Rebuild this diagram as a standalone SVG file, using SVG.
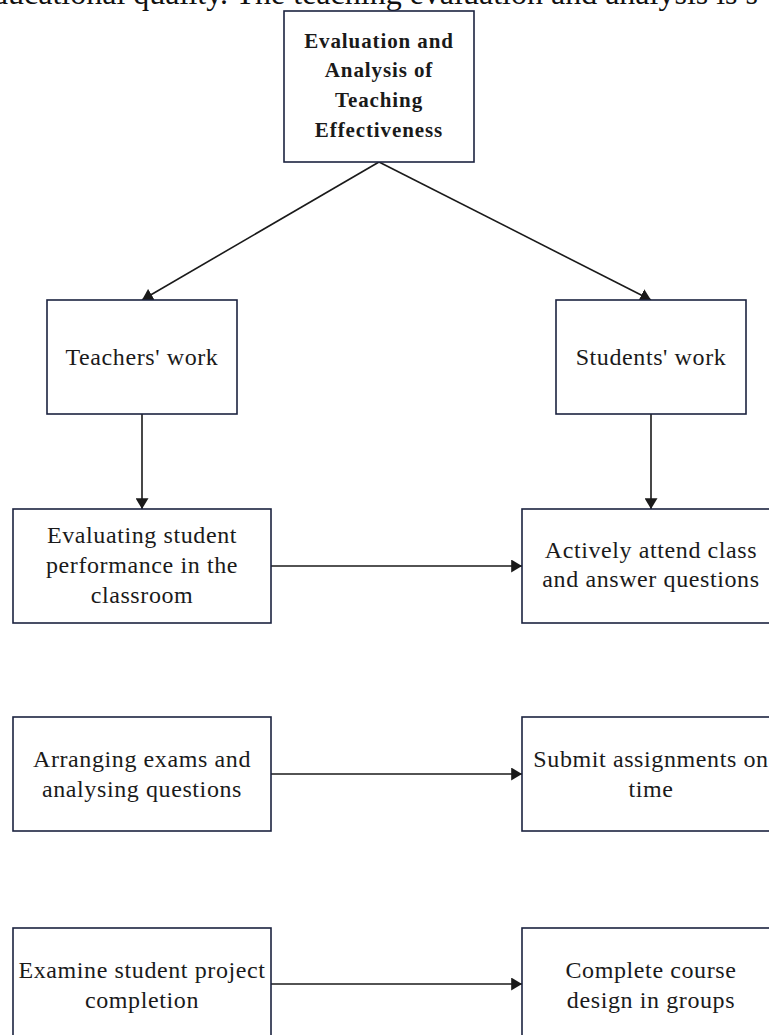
<svg xmlns="http://www.w3.org/2000/svg" width="769" height="1035" viewBox="0 0 769 1035">
  <style>
    .box { fill: #ffffff; stroke: #1c2340; stroke-width: 1.6; }
    .lbl { font-family: "Liberation Serif", "Times New Roman", serif; font-size: 24px; letter-spacing: 0.6px; fill: #1a1a1a; text-anchor: middle; }
    .ttl { font-family: "Liberation Serif", "Times New Roman", serif; font-size: 21px; letter-spacing: 0.9px; font-weight: bold; fill: #1a1a1a; text-anchor: middle; }
    .body { font-family: "Liberation Serif", "Times New Roman", serif; font-size: 32px; fill: #111111; }
    .edge { stroke: #1a1a1a; stroke-width: 1.6; fill: none; marker-end: url(#arrow); }
  </style>
  <defs>
    <marker id="arrow" viewBox="0 0 10 12" refX="10" refY="6" markerWidth="11" markerHeight="13" markerUnits="userSpaceOnUse" orient="auto">
      <path d="M0,0 L10,6 L0,12 Z" fill="#1a1a1a"/>
    </marker>
  </defs>
  <rect width="769" height="1035" fill="#ffffff"/>

  <!-- running text line above the figure -->
  <text class="body" x="-8" y="4">ducational quality. The teaching evaluation and analysis is s</text>

  <!-- connectors -->
  <g id="connectors">
    <path class="edge" d="M379,162 L142,300"/>
    <path class="edge" d="M379,162 L651,300"/>
    <path class="edge" d="M142,414 L142,509"/>
    <path class="edge" d="M651,414 L651,509"/>
    <path class="edge" d="M271,566 L522,566"/>
    <path class="edge" d="M271,774 L522,774"/>
    <path class="edge" d="M271,984 L522,984"/>
  </g>

  <g id="root">
    <rect class="box" x="284" y="11" width="190" height="151"/>
    <text class="ttl" x="379" y="48">Evaluation and</text>
    <text class="ttl" x="379" y="77">Analysis of</text>
    <text class="ttl" x="379" y="107">Teaching</text>
    <text class="ttl" x="379" y="137">Effectiveness</text>
  </g>

  <g id="teachers">
    <rect class="box" x="47" y="300" width="190" height="114"/>
    <text class="lbl" x="142" y="365">Teachers' work</text>
  </g>

  <g id="students">
    <rect class="box" x="556" y="300" width="190" height="114"/>
    <text class="lbl" x="651" y="365">Students' work</text>
  </g>

  <g id="evaluating">
    <rect class="box" x="13" y="509" width="258" height="114"/>
    <text class="lbl" x="142" y="543">Evaluating student</text>
    <text class="lbl" x="142" y="573">performance in the</text>
    <text class="lbl" x="142" y="603">classroom</text>
  </g>

  <g id="attend">
    <rect class="box" x="522" y="509" width="258" height="114"/>
    <text class="lbl" x="651" y="558">Actively attend class</text>
    <text class="lbl" x="651" y="587">and answer questions</text>
  </g>

  <g id="exams">
    <rect class="box" x="13" y="717" width="258" height="114"/>
    <text class="lbl" x="142" y="767">Arranging exams and</text>
    <text class="lbl" x="142" y="797">analysing questions</text>
  </g>

  <g id="assignments">
    <rect class="box" x="522" y="717" width="258" height="114"/>
    <text class="lbl" x="651" y="767">Submit assignments on</text>
    <text class="lbl" x="651" y="797">time</text>
  </g>

  <g id="project">
    <rect class="box" x="13" y="928" width="258" height="120"/>
    <text class="lbl" x="142" y="978">Examine student project</text>
    <text class="lbl" x="142" y="1008">completion</text>
  </g>

  <g id="groups">
    <rect class="box" x="522" y="928" width="258" height="120"/>
    <text class="lbl" x="651" y="978">Complete course</text>
    <text class="lbl" x="651" y="1008">design in groups</text>
  </g>
</svg>
